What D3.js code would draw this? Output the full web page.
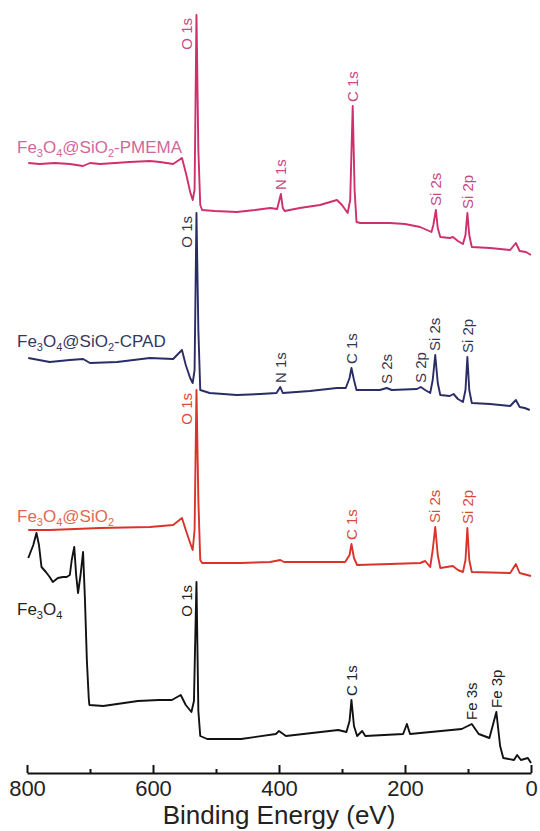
<!DOCTYPE html>
<html>
<head>
<meta charset="utf-8">
<title>XPS survey spectra</title>
<script src="https://cdn.jsdelivr.net/npm/d3@7"></script>
<style>
  body { margin: 0; background: #fff; }
  svg { font-family: Arial, "Liberation Sans", sans-serif; }
</style>
</head>
<body>
<div class="chart-area"></div>
<script>
// binding energy (eV) / stacked intensity (a.u.)
var pmemaBE = [798,780,756,732,711,700,684,660,637,605,589,568,554,547,541,537,534,531,528,525,522,502,467,438,414,403,397,394,391,367,335,308,300,291,287,283,280,277,271,224,200,176,158,155,151,148,144,129,124,116,108,104,101,98,94,65,33,24,18,8,0];
var pmemaI  = [608,607,608,607,605,608,607,608,609,610,609,607,613,596,579,571,581,756,621,566,561,560,559,561,563,562,577,563,560,563,566,571,566,558,571,665,581,549,548,548,547,544,539,546,561,543,534,533,534,530,527,536,558,536,524,523,521,528,520,519,516];

var cpadBE = [798,764,732,711,700,657,605,568,554,548,541,537,534,531,528,525,510,467,430,404,398,394,351,308,294,288,285,281,277,240,229,221,181,175,168,160,156,152,148,144,129,123,116,108,104,101,98,94,65,33,24,18,10,2];
var cpadI  = [413,409,411,412,408,409,413,412,421,406,393,388,401,558,441,381,378,376,377,378,384,378,380,383,383,393,403,391,381,381,383,381,382,384,381,378,391,416,388,376,375,377,372,369,381,414,381,368,367,365,371,364,363,361];

var silicaBE = [798,764,684,605,568,554,548,541,537,534,531,528,525,522,462,414,398,392,335,295,288,285,281,276,224,176,168,160,156,152,148,144,124,116,108,104,101,98,94,33,24,18,0];
var silicaI  = [241,241,243,244,246,253,241,228,221,241,381,271,211,208,208,209,211,209,209,209,216,227,213,206,207,208,210,204,221,244,216,203,205,201,199,211,243,211,199,198,207,198,195];

var fe3o4BE = [798,790,785,781,777,770,764,759,751,743,737,732,729,725,722,719,715,711,708,705,702,701,679,624,591,570,556,548,539,535,531,528,525,514,460,405,400,389,306,293,288,285,281,276,268,263,203,197,192,110,94,83,66,55,49,44,27,22,16,5,0];
var fe3o4I  = [213,226,238,226,204,199,194,189,193,194,194,196,211,224,196,178,196,219,171,111,73,66,65,70,71,71,76,66,59,70,189,60,35,32,32,37,40,35,41,39,50,71,45,35,40,35,37,47,37,42,47,37,33,59,25,13,11,16,11,13,8];

var pmemaPeaks = ["O 1s","N 1s","C 1s","Si 2s","Si 2p"];
var pmemaPeakBE = [531,397,283,151,101];
var cpadPeaks = ["O 1s","N 1s","C 1s","S 2s","S 2p","Si 2s","Si 2p"];
var cpadPeakBE = [531,398,285,229,175,152,101];
var silicaPeaks = ["O 1s","C 1s","Si 2s","Si 2p"];
var silicaPeakBE = [531,285,152,101];
var fe3o4Peaks = ["O 1s","C 1s","Fe 3s","Fe 3p"];
var fe3o4PeakBE = [531,285,94,55];

var sampleNames = ["Fe3O4", "Fe3O4@SiO2", "Fe3O4@SiO2-CPAD", "Fe3O4@SiO2-PMEMA"];
var majorTicks = [800, 600, 400, 200, 0];
var minorTicks = [700, 500, 300, 100];

// drawing order: bottom trace first so upper traces sit on top
var series = [
  {name: sampleNames[0], be: fe3o4BE, i: fe3o4I, peaks: fe3o4Peaks, peakBE: fe3o4PeakBE,
   line: "#121212", label: "#222", peakColor: "#222", nameDy: 57},
  {name: sampleNames[1], be: silicaBE, i: silicaI, peaks: silicaPeaks, peakBE: silicaPeakBE,
   line: "#d8352a", label: "#e0694f", peakColor: "#d84b3b", nameDy: -8},
  {name: sampleNames[2], be: cpadBE, i: cpadI, peaks: cpadPeaks, peakBE: cpadPeakBE,
   line: "#2a2c66", label: "#34375f", peakColor: "#34374f", nameDy: -11},
  {name: sampleNames[3], be: pmemaBE, i: pmemaI, peaks: pmemaPeaks, peakBE: pmemaPeakBE,
   line: "#cf2f6c", label: "#d2679a", peakColor: "#c8487f", nameDy: -10}
];

var width = 540, height = 831;

var svg = d3.select(".chart-area")
    .append("svg")
    .attr("width", width)
    .attr("height", height);

var xScale = d3.scaleLinear().domain([800, 0]).range([27, 531]);
var yScale = d3.scaleLinear().domain([0, 771]).range([771, 0]);

var line = d3.line()
    .x(function(d){ return xScale(d[0]); })
    .y(function(d){ return yScale(d[1]); });

series.forEach(function(s){
    var pts = d3.zip(s.be, s.i);
    svg.append("path")
        .datum(pts)
        .attr("d", line)
        .attr("fill", "none")
        .attr("stroke", s.line)
        .attr("stroke-width", 1.9)
        .attr("stroke-linejoin", "round");

    // peak labels, placed from the trace maximum near each energy
    s.peaks.forEach(function(p, k){
        var near = pts.filter(function(d){ return Math.abs(d[0] - s.peakBE[k]) <= 3; });
        var top = near.reduce(function(a, b){ return b[1] > a[1] ? b : a; });
        var px = xScale(top[0]), py = yScale(top[1]);
        var isO = p === "O 1s";
        svg.append("text")
            .attr("transform", isO
                ? "translate(" + (px - 10) + "," + (py + 3) + ") rotate(-90)"
                : "translate(" + px + "," + (py - 4) + ") rotate(-90)")
            .attr("text-anchor", isO ? "end" : "start")
            .attr("dy", "0.35em")
            .attr("font-size", "15px")
            .attr("fill", s.peakColor)
            .text(p);
    });

    // sample name, digits set as subscripts
    var t = svg.append("text")
        .attr("x", 17)
        .attr("y", yScale(s.i[0]) + s.nameDy)
        .attr("font-size", "17px")
        .attr("fill", s.label);
    var shift = 0;
    s.name.split(/(\d)/).filter(function(d){ return d !== ""; }).forEach(function(part){
        var sub = /^\d$/.test(part);
        var ts = t.append("tspan").text(part);
        if (sub) {
            ts.attr("font-size", "11px").attr("dy", 4 - shift);
            shift = 4;
        } else if (shift) {
            ts.attr("dy", -shift);
            shift = 0;
        }
    });
});

// x axis, ticks pointing up
var axisY = 773;
var gMinor = svg.append("g")
    .attr("transform", "translate(0," + axisY + ")")
    .call(d3.axisBottom(xScale).tickValues(minorTicks).tickSizeInner(-4).tickSizeOuter(0).tickFormat(""));
gMinor.select(".domain").remove();
gMinor.selectAll("text").remove();
gMinor.selectAll("line").attr("stroke", "#111").attr("stroke-width", 2);

var gMajor = svg.append("g")
    .attr("transform", "translate(0," + axisY + ")")
    .call(d3.axisBottom(xScale).tickValues(majorTicks).tickSizeInner(-8).tickSizeOuter(0).tickPadding(7));
gMajor.select(".domain").attr("stroke", "#111").attr("stroke-width", 2);
gMajor.selectAll("line").attr("stroke", "#111").attr("stroke-width", 2);
gMajor.selectAll("text")
    .attr("font-size", "22px")
    .attr("font-family", "Arial, 'Liberation Sans', sans-serif")
    .attr("fill", "#222");

svg.append("text")
    .attr("x", (xScale.range()[0] + xScale.range()[1]) / 2)
    .attr("y", 824)
    .attr("text-anchor", "middle")
    .attr("font-size", "26px")
    .attr("fill", "#222")
    .text("Binding Energy (eV)");
</script>
</body>
</html>
